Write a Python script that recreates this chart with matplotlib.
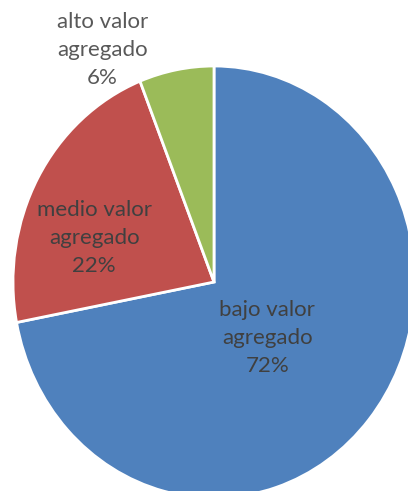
import matplotlib.pyplot as plt
import numpy as np

plt.rcParams['font.family'] = ['Lato', 'DejaVu Sans']

# data (Excel draws clockwise from 12 o'clock)
categories = ["bajo valor\nagregado", "medio valor\nagregado", "alto valor\nagregado"]
shares = [72, 22, 6]
colors = ["#4F81BD", "#C0504D", "#9BBB59"]

# label placement: (radius, angle offset from wedge middle in degrees)
label_pos = [(0.37, -4.5), (0.63, 10), (1.21, 16.5)]
label_colors = ["#404040", "#404040", "#595959"]

fig = plt.figure(figsize=(4.08, 4.91), dpi=100)
# pie is a bit taller than wide in the picture, so aspect is left free
ax = fig.add_axes([13 / 408, -7 / 491, 402 / 408, 432 / 491])

wedges, _ = ax.pie(shares, colors=colors, startangle=90, counterclock=False,
                   wedgeprops=dict(edgecolor="white", linewidth=2))
ax.set_aspect("auto")
ax.set_xlim(-1, 1)
ax.set_ylim(-1, 1)

for w, cat, val, (r, off), tc in zip(wedges, categories, shares, label_pos, label_colors):
  mid = np.radians((w.theta1 + w.theta2) / 2 + off)
  ax.text(r * np.cos(mid), r * np.sin(mid), f"{cat}\n{val}%", ha="center", va="center",
          fontsize=16, color=tc, linespacing=1.5, clip_on=False)

fig.savefig("out.png", dpi=100)
